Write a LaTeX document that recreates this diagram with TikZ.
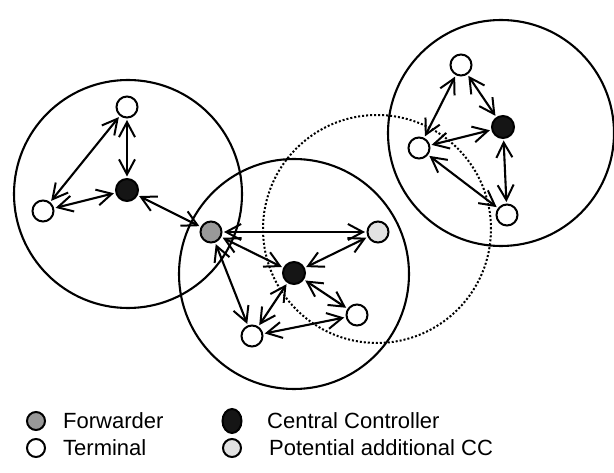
\documentclass[tikz,border=0pt]{standalone}
\usepackage{fontspec}
\setmainfont{Liberation Sans}
\usetikzlibrary{arrows.meta,shapes.geometric}
\definecolor{fwgray}{HTML}{999999}
\definecolor{ccgray}{HTML}{E2E2E2}
\definecolor{ccblack}{HTML}{151515}
\tikzset{
  dev/.style={circle, draw=black, line width=2pt, minimum size=21pt, inner sep=0pt},
  term/.style={dev, fill=white},
  fwd/.style={dev, fill=fwgray},
  ctrl/.style={dev, fill=ccblack, minimum size=22pt},
  pot/.style={dev, fill=ccgray},
  link/.style={line width=2.1pt, {Straight Barb[length=15pt,width=16pt,line width=2pt]}-{Straight Barb[length=15pt,width=16pt,line width=2pt]}, shorten >=1.5pt, shorten <=1.5pt},
  zone/.style={line width=2.1pt},
  pzone/.style={line width=2pt, dotted},
  lbl/.style={anchor=west, inner sep=0pt, font=\fontsize{22}{26}\selectfont}
}
\begin{document}
\begin{tikzpicture}[x=1pt,y=-1pt]
\path[use as bounding box] (0,0) rectangle (614,473);
% zones
\draw[zone] (128,194) circle (114pt);
\draw[zone] (294,274) circle (115pt);
\draw[zone] (501,133) circle (113pt);
\draw[pzone] (377,229) circle (114pt);
% left cluster
\node[term] (lt) at (127,107) {};
\node[ctrl] (lc) at (127,190) {};
\node[term] (ll) at (43,211) {};
\node[fwd]  (fw) at (211,232) {};
% middle cluster
\node[pot]  (pc) at (378,232) {};
\node[ctrl] (mc) at (294,273) {};
\node[term] (mr) at (357,315) {};
\node[term] (ml) at (252,336) {};
% right cluster
\node[term] (rt) at (461,65) {};
\node[ctrl] (rc) at (503,127) {};
\node[term] (rl) at (419,148) {};
\node[term] (rb) at (507,215) {};
% links
\draw[link] (lt) -- (lc);
\draw[link] (lt) -- (ll);
\draw[link] (ll) -- (lc);
\draw[link] (lc) -- (fw);
\draw[link] (fw) -- (pc);
\draw[link] (fw) -- (mc);
\draw[link] (pc) -- (mc);
\draw[link] (mc) -- (mr);
\draw[link] (mc) -- (ml);
\draw[link] (fw) -- (ml);
\draw[link] (ml) -- (mr);
\draw[link] (rt) -- (rc);
\draw[link] (rt) -- (rl);
\draw[link] (rl) -- (rc);
\draw[link] (rc) -- (rb);
\draw[link] (rl) -- (rb);
% legend
\node[fwd, minimum size=18pt] (kf) at (36,421) {};
\node[lbl] (tf) at (63,421) {Forwarder};
\node[draw=black, line width=2pt, fill=ccblack, ellipse, minimum width=19pt, minimum height=24pt, inner sep=0pt] (kc) at (232,421) {};
\node[lbl] (tc) at (267,421) {Central Controller};
\node[term, minimum size=18pt] (kt) at (36,448) {};
\node[lbl] (tt) at (63,448) {Terminal};
\node[pot, minimum size=18pt] (kp) at (232,448) {};
\node[lbl] (tp) at (269,448) {Potential additional CC};
\end{tikzpicture}
\end{document}
